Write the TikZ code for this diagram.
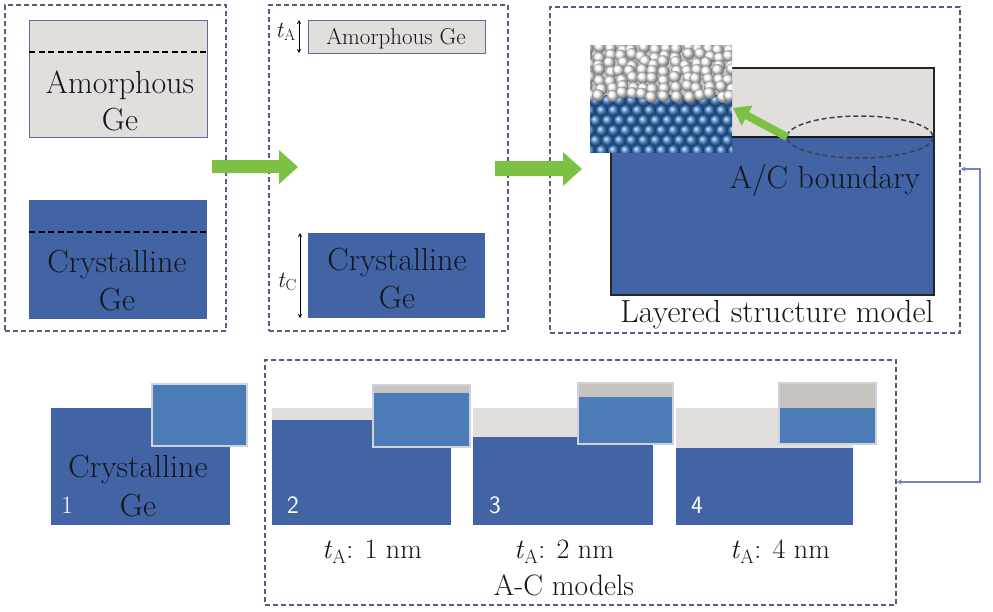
\documentclass[tikz,border=0pt]{standalone}
\usepackage{fontspec}
\usetikzlibrary{arrows.meta}
\definecolor{geblue}{RGB}{66,100,165}
\definecolor{gegrey}{RGB}{226,222,219}
\definecolor{arrgreen}{RGB}{124,192,68}
\definecolor{boxc}{RGB}{88,92,128}
\definecolor{insetblue}{RGB}{76,124,184}
\definecolor{insetborder}{RGB}{206,210,220}
\definecolor{insetgrey}{RGB}{198,194,190}
\definecolor{atomb}{RGB}{60,128,205}
\definecolor{connc}{RGB}{118,128,198}
\definecolor{txt}{RGB}{20,22,30}
\begin{document}
\begin{tikzpicture}[x=1pt,y=-1pt,
  dbox/.style={draw=boxc, line width=1.4pt, dash pattern=on 5pt off 3pt, inner sep=0pt},
  amor/.style={fill=gegrey, draw=gray!80!blue, line width=0.8pt},
  cryst/.style={fill=geblue},
  cut/.style={black, line width=1.4pt, dash pattern=on 6pt off 3.5pt},
  big/.style={font=\rmfamily\fontsize{32}{32}\selectfont, text=txt, anchor=base, inner sep=0pt},
  mid/.style={font=\rmfamily\fontsize{23}{23}\selectfont, text=txt, anchor=base, inner sep=0pt},
  lab/.style={font=\rmfamily\fontsize{28}{28}\selectfont, text=txt, anchor=base, inner sep=0pt},
  num/.style={font=\sffamily\fontsize{25}{25}\selectfont, text=white, anchor=base, inner sep=0pt},
  blockarrow/.style={fill=arrgreen},
  dim/.style={line width=0.7pt, {Stealth[length=4pt,width=4pt]}-{Stealth[length=4pt,width=4pt]}},
  conn/.style={draw=connc, line width=1.5pt, {Stealth[length=5pt,width=5pt]}-{Stealth[length=5pt,width=5pt]}},
  minset/.style={fill=insetblue, draw=insetborder, line width=1.5pt},
]
\useasboundingbox (0,0) rectangle (993,611);
\fill[white] (0,0) rectangle (993,611);

% ---------- dashed frames ----------
\node[dbox, minimum width=221pt, minimum height=326pt] (B1) at (115.5,168) {};
\node[dbox, minimum width=239pt, minimum height=326pt] (B2) at (388.5,168) {};
\node[dbox, minimum width=410pt, minimum height=326pt] (B3) at (755,170) {};
\node[dbox, minimum width=631pt, minimum height=245pt] (B4) at (580.5,482.5) {};

% ---------- panel 1 ----------
\draw[amor] (29,20) rectangle (207,137);
\draw[cut] (29,52) -- (207,52);
\node[big] (a1) at (120,93) {Amorphous};
\node[big] (a2) at (120,130) {Ge};
\fill[cryst] (29,200) rectangle (207,319);
\draw[cut] (29,232) -- (207,232);
\node[big] (c1) at (117,272) {Crystalline};
\node[big] (c2) at (117,310) {Ge};

% green block arrows
\fill[blockarrow] (212,160) -- (279,160) -- (279,150) -- (298,167) -- (279,184) -- (279,173) -- (212,173) -- cycle;
\fill[blockarrow] (495,161) -- (563,161) -- (563,152) -- (582,169) -- (563,186) -- (563,176) -- (495,176) -- cycle;

% ---------- panel 2 ----------
\draw[amor] (308,20) rectangle (485,53);
\node[mid] (a3) at (396,44) {Amorphous Ge};
\fill[cryst] (308,233) rectangle (485,318);
\node[big] (c3) at (397,270) {Crystalline};
\node[big] (c4) at (397,308) {Ge};
\coordinate (tA1) at (299,20);
\coordinate (tA2) at (299,53);
\draw[dim] (tA1) -- (tA2);
\node[mid, anchor=base east] (tA) at (296,37) {\textit{t}\textsubscript{A}};
\coordinate (tC1) at (300,233);
\coordinate (tC2) at (300,318);
\draw[dim] (tC1) -- (tC2);
\node[mid, anchor=base east] (tC) at (297,287) {\textit{t}\textsubscript{C}};

% ---------- panel 3 ----------
\fill[gegrey] (611,68) rectangle (934,137);
\fill[geblue] (611,137) rectangle (934,295);
\draw[black!85, line width=1.3pt] (611,68) rectangle (934,295);
\draw[black!90, line width=2pt] (611,137) -- (934,137);
\node[big] (acb) at (825,188) {A/C boundary};
\node[big] (lsm) at (777,322) {Layered structure model};
\draw[boxc!70!black, line width=1.5pt, dash pattern=on 5pt off 3pt] (860,137) ellipse [x radius=73, y radius=21];

% atomic inset
\begin{scope}
\clip (590,45) rectangle (732,152);
\fill[insetgrey] (590,45) rectangle (732,152);
\fill[atomb!80!black] (590,96) rectangle (732,152);
\foreach \r in {0,...,5} {
  \foreach \c in {0,...,12} {
    \pgfmathsetmacro{\xx}{584 + \c*12 + mod(\r,2)*6}
    \pgfmathsetmacro{\yy}{101 + \r*10}
    \shade[ball color=atomb] (\xx,\yy) circle (6.3);
  }
}
\pgfmathsetseed{7}
\foreach \r in {0,...,6} {
  \foreach \c in {0,...,13} {
    \pgfmathsetmacro{\xx}{588 + \c*11 + 3*rand}
    \pgfmathsetmacro{\yy}{48 + \r*7.8 + 2.5*rand}
    \shade[ball color=white!96!gray] (\xx,\yy) circle (6);
  }
}
\end{scope}
\coordinate (gs) at (787,137);
\coordinate (ge) at (733,108);
\draw[arrgreen, line width=8pt, -{Triangle[length=16pt,width=22pt]}] (gs) -- (ge);

% connector
\coordinate (k1) at (980,169);
\coordinate (k2) at (980,482);
\draw[conn] (B3.east |- k1) -- (k1) -- (k2) -- (B4.east |- k2);

% ---------- bottom models ----------
% model 1
\fill[cryst] (51,408) rectangle (230,525);
\draw[minset] (152,384) rectangle (247,446);
\node[big] (m1a) at (138,477) {Crystalline};
\node[big] (m1b) at (138,516) {Ge};
\node[num, font=\rmfamily\fontsize{25}{25}\selectfont] (n1) at (67,513) {1};

% model 2
\fill[gegrey] (272,408) rectangle (451,420);
\fill[cryst] (272,420) rectangle (451,525);
\draw[minset] (373,385) rectangle (470,447);
\fill[insetgrey] (374,386) rectangle (469,393);
\node[num] (n2) at (293,513) {2};
\node[lab] (t1) at (372,558) {\textit{t}\textsubscript{A}: 1 nm};

% model 3
\fill[gegrey] (473,408) rectangle (653,437);
\fill[cryst] (473,437) rectangle (653,525);
\draw[minset] (578,383) rectangle (673,444);
\fill[insetgrey] (579,384) rectangle (672,397);
\node[num] (n3) at (495,513) {3};
\node[lab] (t2) at (564,558) {\textit{t}\textsubscript{A}: 2 nm};
\node[lab, font=\rmfamily\fontsize{29.5}{29.5}\selectfont] (acm) at (564,595) {A-C models};

% model 4
\fill[gegrey] (676,408) rectangle (853,448);
\fill[cryst] (676,448) rectangle (853,525);
\draw[minset] (779,383) rectangle (876,444);
\fill[insetgrey] (780,384) rectangle (875,408);
\node[num] (n4) at (697,513) {4};
\node[lab] (t4) at (780,558) {\textit{t}\textsubscript{A}: 4 nm};
\end{tikzpicture}
\end{document}
